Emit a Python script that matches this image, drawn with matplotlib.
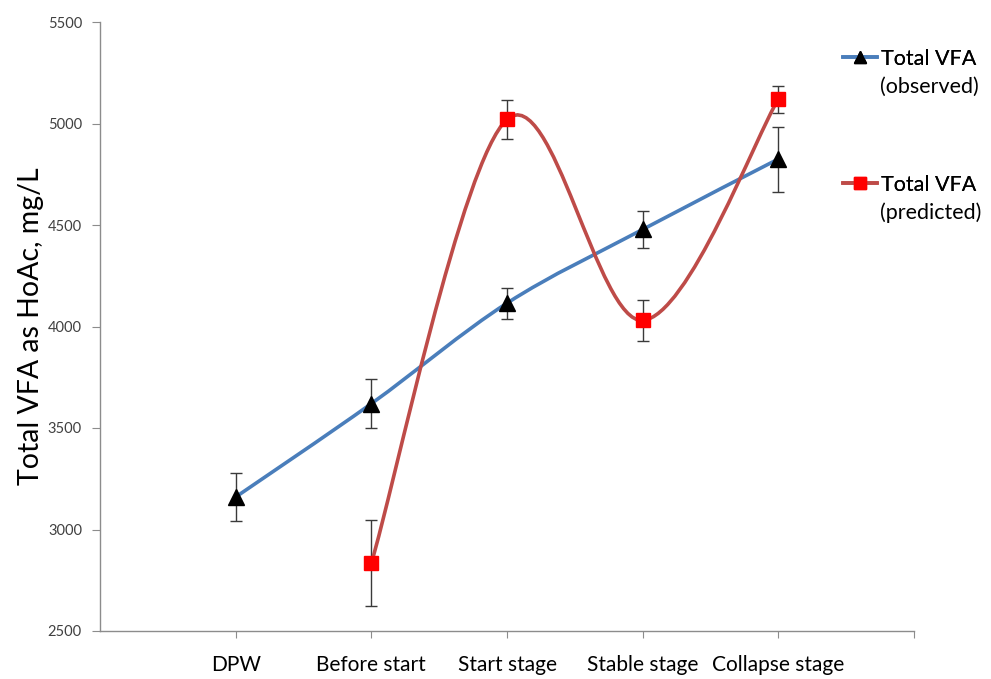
import numpy as np
import matplotlib
matplotlib.use("Agg")
import matplotlib.pyplot as plt
from matplotlib.path import Path
from matplotlib.patches import PathPatch
from matplotlib.lines import Line2D

plt.rcParams['font.family'] = ['Lato', 'DejaVu Sans']

categories = ["DPW", "Before start", "Start stage", "Stable stage", "Collapse stage"]
observed = [3160, 3620, 4115, 4478, 4825]
observed_err = [118, 122, 76, 89, 160]
predicted = [np.nan, 2835, 5020, 4030, 5120]
predicted_err = [np.nan, 212, 96, 100, 67]
y_ticks = [2500, 3000, 3500, 4000, 4500, 5000, 5500]
series_names = ["Total VFA", "Total VFA"]
series_notes = ["(observed)", "(predicted)"]

BLUE = "#4a7ebb"
RED_LINE = "#be4b48"
RED_MARK = "#ff0000"
AXIS_GREY = "#8c8c8c"
W, H = 991, 679


def smooth_path(xs, ys):
    """Cardinal (Catmull-Rom style) Bezier path through the points."""
    pts = np.column_stack([xs, ys])
    n = len(pts)
    verts = [pts[0]]
    codes = [Path.MOVETO]
    for i in range(n - 1):
        p0 = pts[i - 1] if i > 0 else pts[i]
        p1 = pts[i]
        p2 = pts[i + 1]
        p3 = pts[i + 2] if i + 2 < n else pts[i + 1]
        c1 = p1 + (p2 - p0) / 6.0
        c2 = p2 - (p3 - p1) / 6.0
        verts += [c1, c2, p2]
        codes += [Path.CURVE4] * 3
    return Path(verts, codes)


fig = plt.figure(figsize=(W / 100, H / 100), dpi=100)
ax = fig.add_axes([100 / W, 48 / H, 814 / W, 609 / H])

x = np.arange(len(categories))
obs = np.array(observed, float)
pred = np.array(predicted, float)
m = ~np.isnan(pred)

# error bars
ax.errorbar(x, obs, yerr=observed_err, fmt='none', ecolor='#3a3a3a',
            elinewidth=1.0, capsize=4, capthick=1.0, zorder=2)
ax.errorbar(x[m], pred[m], yerr=np.array(predicted_err)[m], fmt='none',
            ecolor='#3a3a3a', elinewidth=1.0, capsize=4, capthick=1.0, zorder=2)

# smoothed series lines
ax.add_patch(PathPatch(smooth_path(x, obs), fill=False, edgecolor=BLUE,
                       lw=2.6, capstyle='round', zorder=3))
ax.add_patch(PathPatch(smooth_path(x[m], pred[m]), fill=False, edgecolor=RED_LINE,
                       lw=2.6, capstyle='round', zorder=3))

# markers
ax.plot(x, obs, linestyle='none', marker='^', markersize=12,
        color='black', zorder=5)
ax.plot(x[m], pred[m], linestyle='none', marker='s', markersize=10,
        color=RED_MARK, zorder=5)

ax.set_xlim(-1, 5)
ax.set_ylim(2500, 5500)
ax.set_xticks(list(x) + [5])
ax.set_xticklabels(categories + [""])
ax.set_yticks(y_ticks)
ax.set_yticklabels([str(v) for v in y_ticks])

for s in ['top', 'right']:
    ax.spines[s].set_visible(False)
for s in ['left', 'bottom']:
    ax.spines[s].set_color(AXIS_GREY)
    ax.spines[s].set_linewidth(1.0)

ax.tick_params(axis='x', direction='out', length=5, color=AXIS_GREY,
               labelsize=15, pad=12, labelcolor='black')
ax.tick_params(axis='y', direction='out', length=6, color=AXIS_GREY,
               labelsize=10.5, pad=7, labelcolor='#404040')

ax.set_ylabel("Total VFA as HoAc, mg/L", fontsize=20.5, labelpad=2.5)

# legend: one entry per series, with the note on a second line
handles = [
    Line2D([], [], color=BLUE, lw=2.6, marker='^', markersize=9,
           markerfacecolor='black', markeredgecolor='black'),
    Line2D([], [], color=RED_LINE, lw=2.6, marker='s', markersize=9,
           markerfacecolor=RED_MARK, markeredgecolor=RED_MARK),
]
entry_y = [59, 185]
for h, name, note, yp in zip(handles, series_names, series_notes, entry_y):
    leg = fig.legend([h], [name], loc='center left',
                     bbox_to_anchor=(843 / W, 1 - yp / H),
                     frameon=False, fontsize=15.5, handlelength=1.6,
                     handletextpad=0.15, borderpad=0, borderaxespad=0)
    fig.add_artist(leg)
    fig.text(880 / W, 1 - (yp + 28) / H, note, fontsize=15.5,
             ha='left', va='center')

fig.savefig("out.png", dpi=100)
